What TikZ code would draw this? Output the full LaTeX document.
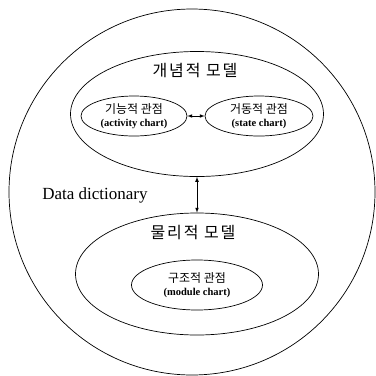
\documentclass[tikz,border=0pt]{standalone}
\usepackage{fontspec}
\setmainfont{Liberation Serif}
\newfontfamily\kr{Noto Sans CJK KR}
\newfontfamily\krwide[LetterSpace=12]{Noto Sans CJK KR}
\usetikzlibrary{shapes.geometric}
\usepgflibrary{arrows}

\begin{document}
\begin{tikzpicture}[x=1pt,y=-1pt,line width=.7pt,>=latex,
  oval/.style={draw,ellipse,inner sep=0pt},
  modeltitle/.style={font=\krwide\fontsize{16}{18}\selectfont},
  viewbox/.style={oval,align=center,font=\fontsize{10.5}{12.5}\selectfont}]
\useasboundingbox (0,0) rectangle (376,376);
% the whole system
\node[draw,circle,inner sep=0pt,minimum size=366pt] (system) at (192,192) {};
% conceptual model
\node[oval,minimum width=253pt,minimum height=125pt] (concept) at (197,114) {};
\node[modeltitle] (conceptTitle) at (195,71) {개념적 모델};
\node[viewbox,minimum width=106pt,minimum height=40pt] (activity) at (134,116)
  {{\kr\fontsize{12}{13}\selectfont 기능적 관점}\\\textbf{(activity chart)}};
\node[viewbox,minimum width=108pt,minimum height=40pt] (state) at (259,116)
  {{\kr\fontsize{12}{13}\selectfont 거동적 관점}\\\textbf{(state chart)}};
\draw[<->] (activity.east) -- (state.west);
% data dictionary
\node (dict) at (95,195) {\fontsize{17}{20}\selectfont Data dictionary};
% physical model
\node[oval,minimum width=243pt,minimum height=122pt] (physical) at (197,274) {};
\node[modeltitle] (physicalTitle) at (193,233) {물리적 모델};
\node[viewbox,minimum width=131pt,minimum height=50pt] (module) at (197,285)
  {{\kr\fontsize{12}{13}\selectfont 구조적 관점}\\\textbf{(module chart)}};
\draw[<->] (concept.south) -- (physical.north);
\end{tikzpicture}
\end{document}
